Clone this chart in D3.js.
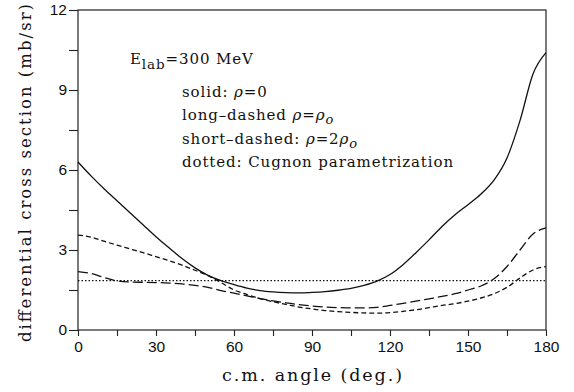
<!DOCTYPE html>
<html>
<head>
<meta charset="utf-8">
<script src="https://cdn.jsdelivr.net/npm/d3@7"></script>
<style>
  body { margin: 0; background: #fff; }
  text { fill: #111; }
</style>
</head>
<body>
<svg id="chart" width="574" height="392"></svg>
<script>
// c.m. angle (deg.)
const angles = [0, 5, 10, 15, 20, 25, 30, 35, 40, 45, 50, 55, 60, 65, 70, 75, 80, 85, 90,
  95, 100, 105, 110, 115, 120, 125, 130, 135, 140, 145, 150, 155, 160, 165, 170, 175, 180];

// solid: rho = 0
const solid = [6.3, 5.78, 5.3, 4.85, 4.4, 3.95, 3.5, 3.08, 2.68, 2.33, 2.05, 1.85, 1.7, 1.57, 1.48, 1.43, 1.4, 1.39, 1.41,
  1.44, 1.49, 1.56, 1.67, 1.83, 2.08, 2.45, 2.9, 3.38, 3.88, 4.32, 4.7, 5.1, 5.62, 6.45, 7.85, 9.6, 10.4];

// long-dashed: rho = rho_o
const longDashed = [2.19, 2.12, 1.97, 1.84, 1.8, 1.79, 1.78, 1.76, 1.73, 1.67, 1.6, 1.48, 1.38, 1.28, 1.18, 1.09, 1.02, 0.95, 0.9,
  0.86, 0.84, 0.83, 0.83, 0.85, 0.92, 1.0, 1.08, 1.17, 1.26, 1.36, 1.5, 1.65, 1.92, 2.38, 3.0, 3.6, 3.83];

// short-dashed: rho = 2 rho_o
const shortDashed = [3.56, 3.48, 3.33, 3.18, 3.04, 2.9, 2.75, 2.6, 2.43, 2.24, 2.04, 1.78, 1.5, 1.33, 1.18, 1.06, 0.96, 0.86, 0.79,
  0.73, 0.69, 0.66, 0.64, 0.63, 0.65, 0.7, 0.76, 0.84, 0.92, 0.99, 1.08, 1.2, 1.36, 1.6, 1.95, 2.25, 2.38];

// dotted: Cugnon parametrization
const cugnonAngles = [0, 180];
const cugnon = [1.85, 1.85];

const xTicks = [0, 15, 30, 45, 60, 75, 90, 105, 120, 135, 150, 165, 180];
const yTicks = [0, 1.5, 3, 4.5, 6, 7.5, 9, 10.5, 12];

const svg = d3.select("#chart");
const margin = { top: 10, right: 28, bottom: 62, left: 78 };
const width = +svg.attr("width") - margin.left - margin.right;
const height = +svg.attr("height") - margin.top - margin.bottom;

const chart = svg.append("g")
  .attr("transform", `translate(${margin.left}, ${margin.top})`);

const x = d3.scaleLinear().domain([0, 180]).range([0, width]);
const y = d3.scaleLinear().domain([0, 12]).range([height, 0]);

// frame
chart.append("rect")
  .attr("width", width)
  .attr("height", height)
  .attr("fill", "none")
  .attr("stroke", "#222")
  .attr("stroke-width", 1.2);

// axes
const xAxis = chart.append("g")
  .attr("transform", `translate(0, ${height})`)
  .call(d3.axisBottom(x)
    .tickValues(xTicks)
    .tickSize(6)
    .tickPadding(5)
    .tickFormat(d => d % 30 === 0 ? d : ""));

const yAxis = chart.append("g")
  .call(d3.axisLeft(y)
    .tickValues(yTicks)
    .tickSize(9)
    .tickPadding(2)
    .tickFormat(d => d % 3 === 0 ? d : ""));

[xAxis, yAxis].forEach(a => {
  a.select(".domain").remove();
  a.selectAll(".tick line").attr("stroke", "#222").attr("stroke-width", 1.1);
  a.selectAll(".tick text")
    .attr("font-family", "'Liberation Sans', Arial, sans-serif")
    .attr("font-size", 15.5)
    .attr("fill", "#111");
});

// curves
const line = d3.line()
  .x(d => x(d[0]))
  .y(d => y(d[1]))
  .curve(d3.curveMonotoneX);

const series = [
  { values: d3.zip(angles, solid), dash: null },
  { values: d3.zip(angles, longDashed), dash: "10,4" },
  { values: d3.zip(angles, shortDashed), dash: "5,3" },
  { values: d3.zip(cugnonAngles, cugnon), dash: "1.5,2" }
];

chart.append("g")
  .selectAll("path")
  .data(series)
  .join("path")
  .attr("d", d => line(d.values))
  .attr("fill", "none")
  .attr("stroke", "#111")
  .attr("stroke-width", d => d.dash === "1.5,2" ? 1.1 : 1.3)
  .attr("stroke-dasharray", d => d.dash);

// axis titles (typewriter-like spacing)
const serif = "'DejaVu Serif', serif";

svg.append("text")
  .attr("x", 222)
  .attr("y", 381)
  .attr("textLength", 180)
  .attr("lengthAdjust", "spacing")
  .attr("font-family", serif)
  .attr("font-size", 17.5)
  .text("c.m. angle (deg.)");

svg.append("text")
  .attr("transform", `translate(31, 342) rotate(-90)`)
  .attr("textLength", 338)
  .attr("lengthAdjust", "spacing")
  .attr("font-family", serif)
  .attr("font-size", 16.5)
  .text("differential cross section (mb/sr)");

// annotation
const note = svg.append("g")
  .attr("font-family", serif)
  .attr("font-size", 15)
  .attr("letter-spacing", 0.9);

const elab = note.append("text").attr("x", 130).attr("y", 64);
elab.append("tspan").text("E");
elab.append("tspan").attr("dy", 5).attr("font-size", 13.5).text("lab");
elab.append("tspan").attr("dy", -5).text("=300 MeV");

function rhoLine(yPos, parts) {
  const t = note.append("text").attr("x", 182).attr("y", yPos);
  parts.forEach(p => {
    const s = t.append("tspan").text(p.t);
    if (p.i) s.attr("font-style", "italic");
    if (p.dy) s.attr("dy", p.dy);
    if (p.fs) s.attr("font-size", p.fs);
  });
}

rhoLine(97, [{ t: "solid: " }, { t: "ρ", i: true }, { t: "=0" }]);
rhoLine(120, [{ t: "long\u2013dashed " }, { t: "ρ", i: true }, { t: "=" }, { t: "ρ", i: true },
  { t: "o", i: true, dy: 4, fs: 13 }]);
rhoLine(144, [{ t: "short\u2013dashed: " }, { t: "ρ", i: true }, { t: "=2" }, { t: "ρ", i: true },
  { t: "o", i: true, dy: 4, fs: 13 }]);
rhoLine(167, [{ t: "dotted: Cugnon parametrization" }]);
</script>
</body>
</html>
